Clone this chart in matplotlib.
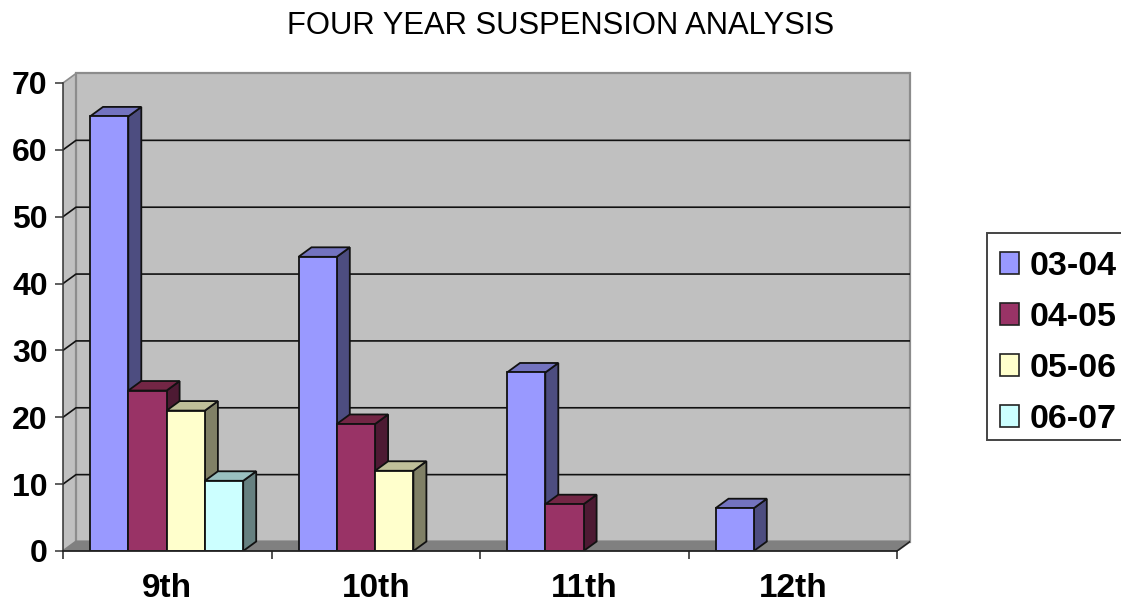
import matplotlib
matplotlib.use("Agg")
import matplotlib.pyplot as plt
from matplotlib.patches import Polygon, Patch, Rectangle

plt.rcParams['font.family'] = ['Liberation Sans', 'DejaVu Sans']

grades = ['9th', '10th', '11th', '12th']
years = ['03-04', '04-05', '05-06', '06-07']
s0304 = [65, 44, 26.7, 6.4]
s0405 = [24, 19, 7, 0]
s0506 = [21, 12, 0, 0]
s0607 = [10.5, 0, 0, 0]
series = [s0304, s0405, s0506, s0607]
y_ticks = [0, 10, 20, 30, 40, 50, 60, 70]

front = ['#9999FF', '#993366', '#FFFFCC', '#CCFFFF']
side = ['#4D4D80', '#4D1A33', '#808066', '#668080']
top = ['#7373BF', '#732645', '#BFBF99', '#99BFBF']

# 3d look: how far the back wall is shifted from the front plane
dx = 13 / 208.5
dy = 9.5 / 6.686
bar_w = 38.3 / 208.5
gap = 27 / 208.5

fig = plt.figure(figsize=(11.21, 6.03), dpi=100)
ax = fig.add_axes([63 / 1121, 1 - 551 / 603, 847 / 1121, 478 / 603])
ax.set_xlim(0, 847 / 208.5)
ax.set_ylim(0, 478 / 6.686)

# walls and floor
ax.add_patch(Polygon([(0, 0), (dx, dy), (dx, 70 + dy), (0, 70)], fc='#C0C0C0', ec='none', zorder=1))
ax.add_patch(Polygon([(dx, dy), (4 + dx, dy), (4 + dx, 70 + dy), (dx, 70 + dy)],
                     fc='#C0C0C0', ec='#8C8C8C', lw=1.6, zorder=1, clip_on=False))
ax.add_patch(Polygon([(0, 0), (4, 0), (4 + dx, dy), (dx, dy)], fc='#808080', ec='#808080', lw=1.5, zorder=2))

for v in y_ticks[1:-1]:
    ax.plot([0, dx, 4 + dx], [v, v + dy, v + dy], color='#111111', lw=1.2, zorder=2)
ax.plot([0, dx], [70, 70 + dy], color='#8C8C8C', lw=1.2, zorder=2)
ax.plot([4, 4 + dx], [0, dy], color='#222222', lw=1.1, zorder=2)

# bars, left to right so the next front covers the previous side
z = 3
for i in range(len(grades)):
    for j, vals in enumerate(series):
        v = vals[i]
        if v == 0:
            continue
        x0 = i + gap + j * bar_w
        x1 = x0 + bar_w
        ax.add_patch(Polygon([(x1, 0), (x1 + dx, dy), (x1 + dx, v + dy), (x1, v)],
                             fc=side[j], ec='#111111', lw=1.3, zorder=z))
        ax.add_patch(Polygon([(x0, v), (x1, v), (x1 + dx, v + dy), (x0 + dx, v + dy)],
                             fc=top[j], ec='#111111', lw=1.3, zorder=z))
        ax.bar(x0, v, width=bar_w, align='edge', color=front[j], edgecolor='#111111', lw=1.3, zorder=z + 1)
        z += 2

for s in ['top', 'right']:
    ax.spines[s].set_visible(False)
ax.spines['left'].set_bounds(0, 70)
ax.spines['bottom'].set_bounds(0, 4)
ax.spines['left'].set_color('#333333')
ax.spines['bottom'].set_color('#222222')
ax.spines['left'].set_linewidth(1.1)
ax.spines['bottom'].set_linewidth(1.3)
ax.spines['left'].set_zorder(50)
ax.spines['bottom'].set_zorder(50)

ax.set_yticks(y_ticks)
ax.set_yticklabels([str(v) for v in y_ticks], fontsize=23, fontweight='bold', color='black')
ax.tick_params(axis='y', length=6, width=1.1, color='#333333', pad=5)
ax.set_xticks(range(5))
ax.set_xticklabels([''] * 5)
ax.tick_params(axis='x', which='major', length=6, width=1.1, color='#222222')
ax.set_xticks([i + 0.5 for i in range(4)], minor=True)
ax.set_xticklabels(grades, minor=True, fontsize=24, fontweight='bold', color='black')
ax.tick_params(axis='x', which='minor', length=0, pad=16)

fig.text(561 / 1121, 1 - 26 / 603, 'FOUR YEAR SUSPENSION ANALYSIS', ha='center', va='center',
         fontsize=22.3, color='black')

# legend box runs off the right edge of the picture
fig.add_artist(Rectangle((987 / 1121, 1 - 440 / 603), 140 / 1121, 207 / 603, transform=fig.transFigure,
                         fc='white', ec='#444444', lw=1.4))
handles = [Patch(fc=front[j], ec='#222222', lw=1.2) for j in range(4)]
leg = fig.legend(handles, years, loc='upper left', bbox_to_anchor=(987 / 1121, 1 - 238 / 603),
                 borderaxespad=0, frameon=False,
                 prop={'size': 24.5, 'weight': 'bold'}, handlelength=0.56, handleheight=0.62,
                 handletextpad=0.32, labelspacing=0.59, borderpad=0.38)
for t in leg.get_texts():
    t.set_color('black')

fig.savefig('out.png', dpi=100)
